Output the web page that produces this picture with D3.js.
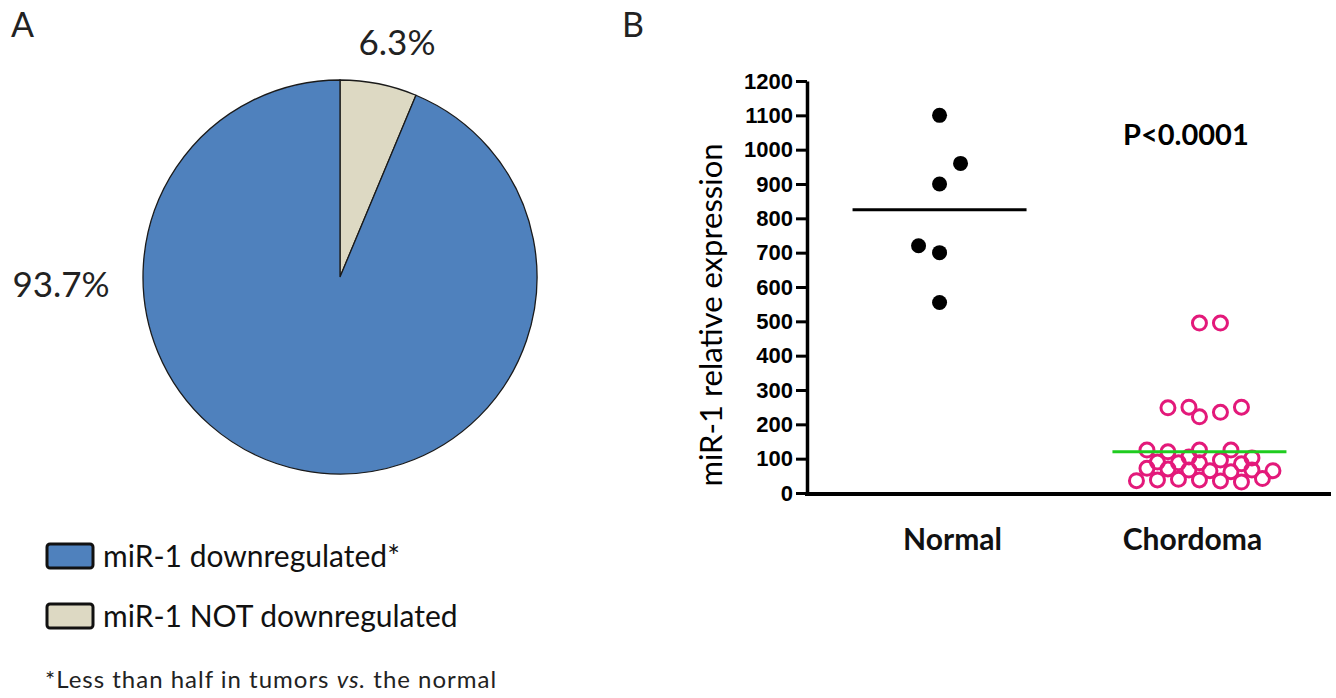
<!DOCTYPE html>
<html>
<head>
<meta charset="utf-8">
<script src="https://d3js.org/d3.v7.min.js"></script>
<style>
  body { margin: 0; background: #fff; }
  text { font-family: Lato, "Open Sans", sans-serif; }
</style>
</head>
<body>
<script>
// panel A: pie
var pieLabels = ["miR-1 NOT downregulated", "miR-1 downregulated*"];
var pieValues = [6.3, 93.7];
var pieText = ["6.3%", "93.7%"];
var legendOrder = ["miR-1 downregulated*", "miR-1 NOT downregulated"];

// panel B: scatter
var groups = ["Normal", "Chordoma"];
var normalValues = [1100, 900, 960, 700, 720, 555];
var chordomaValues = [
  38, 35, 40, 32, 38, 42, 36,
  65, 67, 62, 70, 67, 72, 65,
  88, 88, 96, 85, 90,
  125, 120, 125, 125, 105, 102,
  222, 235, 250, 248, 250,
  495, 495
];
var groupMeans = [825, 120];
var yTicks = [0, 100, 200, 300, 400, 500, 600, 700, 800, 900, 1000, 1100, 1200];

var width = 1336, height = 698;
var svg = d3.select("body").append("svg")
  .attr("width", width).attr("height", height);
svg.append("rect").attr("width", width).attr("height", height).attr("fill", "#fff");

// ---------- A ----------
svg.append("text").attr("x", 11).attr("y", 37)
  .attr("font-size", 34).attr("fill", "#222").text("A");

var pieColor = d3.scaleOrdinal().domain(pieLabels).range(["#ddd9c3", "#4f81bd"]);
var pie = d3.pie().sort(null);
var arc = d3.arc().innerRadius(0).outerRadius(197);
var pg = svg.append("g").attr("transform", "translate(340,277)");
pg.selectAll("path")
  .data(pie(pieValues))
  .join("path")
  .attr("d", arc)
  .attr("fill", function (d, i) { return pieColor(pieLabels[i]); })
  .attr("stroke", "#1a1a1a")
  .attr("stroke-width", 1.3);

svg.append("text").attr("x", 397).attr("y", 55).attr("text-anchor", "middle")
  .attr("font-size", 35).attr("fill", "#222").text(pieText[0]);
svg.append("text").attr("x", 61).attr("y", 297).attr("text-anchor", "middle")
  .attr("font-size", 35).attr("fill", "#222").text(pieText[1]);

var leg = svg.selectAll(".leg")
  .data(legendOrder)
  .join("g")
  .attr("class", "leg")
  .attr("transform", function (d, i) { return "translate(47," + (544 + i * 60) + ")"; });
leg.append("rect")
  .attr("width", 46).attr("height", 24).attr("rx", 3)
  .attr("fill", function (d) { return pieColor(d); })
  .attr("stroke", "#111").attr("stroke-width", 3);
leg.append("text")
  .attr("x", 56).attr("y", 23)
  .attr("font-size", 30).attr("fill", "#111")
  .text(function (d) { return d; });

var foot = svg.append("text").attr("x", 45).attr("y", 688)
  .attr("font-size", 24).attr("fill", "#222").attr("letter-spacing", 1);
foot.append("tspan").text("*Less than half in tumors ");
foot.append("tspan").attr("font-style", "italic").text("vs.");
foot.append("tspan").text(" the normal");

// ---------- B ----------
svg.append("text").attr("x", 622).attr("y", 37)
  .attr("font-size", 34).attr("fill", "#222").text("B");

var y = d3.scaleLinear().domain([0, 1200]).range([493, 81]);
var x = d3.scalePoint().domain(groups).range([807, 1332]).padding(0.51);

var yAxis = svg.append("g")
  .attr("transform", "translate(807,0)")
  .call(d3.axisLeft(y).tickValues(yTicks).tickFormat(d3.format("d"))
    .tickSize(11).tickSizeOuter(0).tickPadding(3));
yAxis.select(".domain").attr("stroke", "#000").attr("stroke-width", 3.5);
yAxis.selectAll(".tick line").attr("stroke", "#000").attr("stroke-width", 3);
yAxis.selectAll(".tick text")
  .style("font-family", "'Liberation Sans', Arial, sans-serif")
  .attr("font-weight", "bold").attr("font-size", 22).attr("fill", "#000");

svg.append("line")
  .attr("x1", 805).attr("x2", 1331)
  .attr("y1", y(0) + 1).attr("y2", y(0) + 1)
  .attr("stroke", "#000").attr("stroke-width", 4);

svg.append("text")
  .attr("transform", "translate(722,315) rotate(-90)")
  .attr("text-anchor", "middle").attr("font-size", 31).attr("fill", "#000")
  .text("miR-1 relative expression");

var labelShift = [13, -7];
svg.selectAll(".xlab")
  .data(groups)
  .join("text")
  .attr("class", "xlab")
  .attr("x", function (d, i) { return x(d) + labelShift[i]; })
  .attr("y", 550)
  .attr("text-anchor", "middle").attr("font-size", 30).attr("font-weight", "bold")
  .attr("fill", "#111")
  .text(function (d) { return d; });

svg.append("text").attr("x", 1123).attr("y", 145)
  .attr("font-size", 29).attr("font-weight", "bold").attr("fill", "#000")
  .text("P<0.0001");

// greedy swarm: each point takes the nearest free slot, leaning to the emptier side
function swarm(values, step, minDist) {
  var placed = [];
  values.forEach(function (v) {
    var py = y(v);
    var right = placed.filter(function (p) { return p.dx > 0; }).length;
    var left = placed.filter(function (p) { return p.dx < 0; }).length;
    var sign = right <= left ? 1 : -1;
    for (var k = 0; k < 40; k++) {
      var cands = k === 0 ? [0] : [sign * k * step, -sign * k * step];
      var ok = null;
      for (var c = 0; c < cands.length; c++) {
        var dx = cands[c];
        var hit = placed.some(function (p) {
          return Math.hypot(p.dx - dx, p.y - py) < minDist;
        });
        if (!hit) { ok = dx; break; }
      }
      if (ok !== null) { placed.push({ v: v, y: py, dx: ok }); break; }
    }
  });
  return placed;
}

var normalPts = swarm(normalValues, 21, 22);
var chordPts = swarm(chordomaValues, 10.5, 12);

svg.append("g").selectAll("circle")
  .data(normalPts)
  .join("circle")
  .attr("cx", function (d) { return x("Normal") + d.dx; })
  .attr("cy", function (d) { return d.y; })
  .attr("r", 7.5)
  .attr("fill", "#000");

svg.append("g").selectAll("circle")
  .data(chordPts)
  .join("circle")
  .attr("cx", function (d) { return x("Chordoma") + d.dx; })
  .attr("cy", function (d) { return d.y; })
  .attr("r", 7)
  .attr("fill", "none")
  .attr("stroke", "#e3197a")
  .attr("stroke-width", 3);

var meanColor = ["#000", "#1fcc1f"];
svg.selectAll(".mean")
  .data(groups)
  .join("line")
  .attr("class", "mean")
  .attr("x1", function (d) { return x(d) - 87; })
  .attr("x2", function (d) { return x(d) + 87; })
  .attr("y1", function (d, i) { return y(groupMeans[i]); })
  .attr("y2", function (d, i) { return y(groupMeans[i]); })
  .attr("stroke", function (d, i) { return meanColor[i]; })
  .attr("stroke-width", 3);
</script>
</body>
</html>
